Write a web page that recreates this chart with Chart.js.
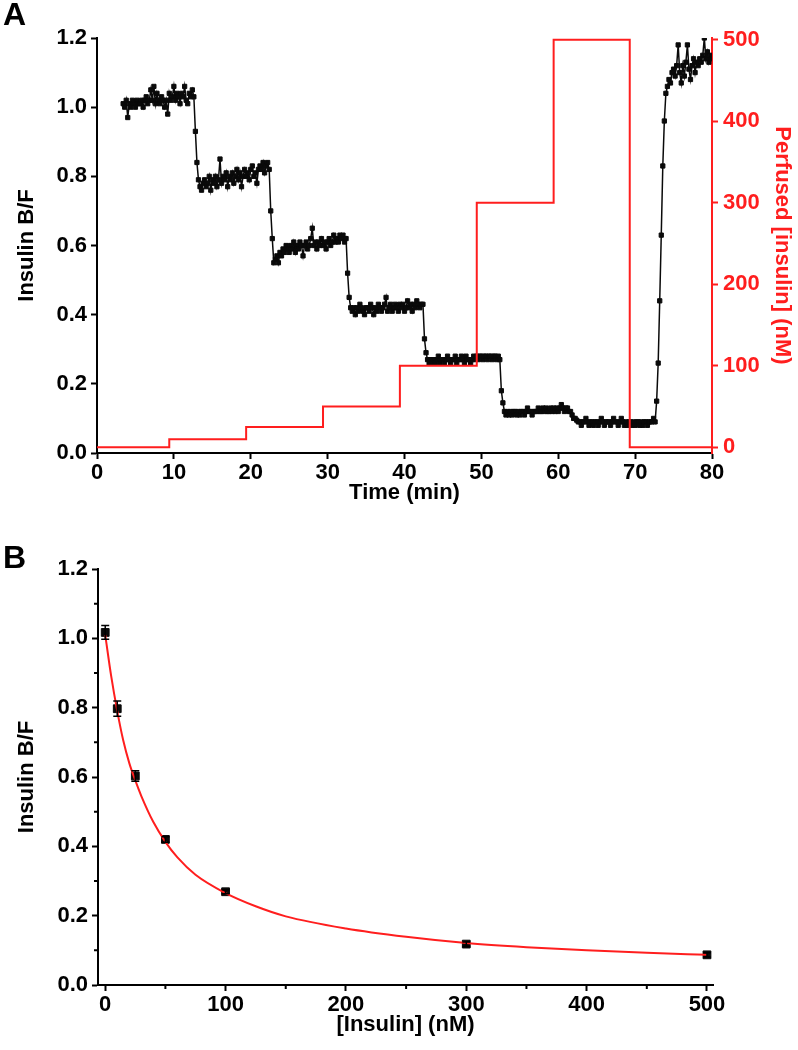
<!DOCTYPE html>
<html>
<head>
<meta charset="utf-8">
<script src="https://cdn.jsdelivr.net/npm/chart.js@4.4.0/dist/chart.umd.min.js"></script>
<style>
  body { margin: 0; background: #fff; }
  .panel { position: absolute; left: 0; width: 798px; height: 525px; }
  .panel-label { position: absolute; left: 3px; font: bold 32px 'Liberation Sans', Arial, sans-serif; color: #000; }
</style>
</head>
<body>
<div class="panel" style="top:0"><canvas id="chartA" width="798" height="525"></canvas></div>
<div class="panel" style="top:525px"><canvas id="chartB" width="798" height="525"></canvas></div>
<div class="panel-label" style="top:-4px">A</div>
<div class="panel-label" style="top:539px">B</div>
<script>
const FONT = "'Liberation Sans', Arial, sans-serif";
const RED = 'rgb(255, 30, 30)';
const INK = '#0a0a0a';

// --- Panel A: insulin B/F trace, one reading every 0.2 min ---
const SAMPLE_MIN = 0.2;
const bfNoInsulin = [1.01, 1.00, 1.02, 0.97, 1.01, 1.00, 1.02, 1.01, 1.00, 1.02,
  1.01, 1.01, 1.02, 1.00, 1.02, 1.03, 1.01, 1.02, 1.05, 1.02,
  1.06, 1.01, 1.04, 1.02, 1.01, 1.03, 1.02, 1.00, 1.02, 0.98,
  1.04, 1.02, 1.03, 1.06, 1.02, 1.04, 1.03, 1.01, 1.04, 1.03,
  1.06, 1.02, 1.01, 1.04, 1.03, 1.05, 1.03];
const bf10nM = [0.93, 0.84, 0.79,
  0.77, 0.76, 0.78, 0.79, 0.77, 0.78, 0.80, 0.76, 0.79, 0.78,
  0.80, 0.77, 0.79, 0.85, 0.78, 0.80, 0.79, 0.81, 0.77, 0.80,
  0.79, 0.81, 0.78, 0.80, 0.82, 0.79, 0.81, 0.77, 0.80, 0.82,
  0.80, 0.81, 0.79, 0.82, 0.83, 0.80, 0.81, 0.78, 0.82, 0.83,
  0.82, 0.84, 0.81, 0.83, 0.84, 0.82];
const bf25nM = [0.70, 0.62, 0.55,
  0.56, 0.57, 0.55, 0.58, 0.57, 0.59, 0.58, 0.60, 0.59, 0.58,
  0.60, 0.59, 0.61, 0.58, 0.60, 0.59, 0.61, 0.60, 0.57, 0.60,
  0.61, 0.59, 0.60, 0.62, 0.65, 0.60, 0.61, 0.59, 0.61, 0.60,
  0.62, 0.60, 0.61, 0.59, 0.61, 0.62, 0.60, 0.61, 0.63, 0.61,
  0.62, 0.61, 0.63, 0.62, 0.63, 0.61, 0.62];
const bf50nM = [0.52, 0.45, 0.42,
  0.41, 0.42, 0.40, 0.42, 0.41, 0.43, 0.42, 0.41, 0.40, 0.42,
  0.42, 0.41, 0.43, 0.42, 0.40, 0.42, 0.41, 0.43, 0.42, 0.41,
  0.42, 0.43, 0.45, 0.41, 0.42, 0.43, 0.41, 0.42, 0.43, 0.42,
  0.41, 0.43, 0.42, 0.43, 0.41, 0.42, 0.44, 0.42, 0.43, 0.41,
  0.43, 0.42, 0.44, 0.43, 0.42, 0.43, 0.43];
const bf100nM = [0.33, 0.29, 0.27,
  0.26, 0.27, 0.26, 0.27, 0.26, 0.27, 0.28, 0.26, 0.27, 0.27,
  0.26, 0.27, 0.28, 0.27, 0.26, 0.27, 0.27, 0.28, 0.26, 0.27,
  0.27, 0.28, 0.27, 0.26, 0.28, 0.27, 0.27, 0.26, 0.27, 0.28,
  0.27, 0.28, 0.27, 0.28, 0.28, 0.27, 0.28, 0.28, 0.27, 0.28,
  0.28, 0.27, 0.28, 0.28, 0.27, 0.28, 0.27];
const bf300nM = [0.18, 0.145, 0.12,
  0.11, 0.12, 0.11, 0.12, 0.11, 0.12, 0.12, 0.11, 0.12, 0.11,
  0.12, 0.12, 0.11, 0.12, 0.13, 0.12, 0.12, 0.11, 0.12, 0.12,
  0.12, 0.13, 0.12, 0.12, 0.13, 0.12, 0.13, 0.12, 0.12, 0.13,
  0.12, 0.13, 0.12, 0.13, 0.12, 0.13, 0.14, 0.13, 0.12, 0.13,
  0.13, 0.12, 0.12, 0.11, 0.10, 0.10, 0.095];
const bf500nM = [0.09, 0.09, 0.08, 0.09, 0.09, 0.10, 0.09, 0.08, 0.09, 0.09,
  0.08, 0.09, 0.09, 0.08, 0.09, 0.10, 0.09, 0.08, 0.09, 0.09,
  0.09, 0.08, 0.09, 0.10, 0.09, 0.09, 0.08, 0.09, 0.10, 0.09,
  0.08, 0.09, 0.08, 0.09, 0.09, 0.08, 0.09, 0.08, 0.09, 0.09,
  0.08, 0.09, 0.08, 0.09, 0.09, 0.08, 0.09, 0.09, 0.09, 0.10, 0.09];
const bfWash = [0.15, 0.26, 0.44, 0.63, 0.83, 0.96, 1.04,
  1.06, 1.08, 1.07, 1.10, 1.11, 1.09, 1.12, 1.18, 1.10, 1.07,
  1.12, 1.09, 1.13, 1.18, 1.11, 1.08, 1.12, 1.14, 1.10, 1.13,
  1.12, 1.14, 1.13, 1.15, 1.20, 1.14, 1.16, 1.13, 1.15, 1.14];
const segmentStarts = [3.4, 12.8, 22.6, 32.6, 42.6, 52.6, 62.6, 72.8];
const segments = [bfNoInsulin, bf10nM, bf25nM, bf50nM, bf100nM, bf300nM, bf500nM, bfWash];

// perfused insulin steps (nM), value held until the next time
const stepTimes = [0, 9.4, 19.4, 29.4, 39.4, 49.4, 59.4, 69.3, 80];
const stepConc = [0, 10, 25, 50, 100, 300, 500, 0, 0];

const timeTicks = [0, 10, 20, 30, 40, 50, 60, 70, 80];
const bfTicks = [0, 0.2, 0.4, 0.6, 0.8, 1.0, 1.2];
const perfusedTicks = [0, 100, 200, 300, 400, 500];

// --- Panel B: calibration ---
const calConc = [0, 10, 25, 50, 100, 300, 500];
const calBF = [1.017, 0.797, 0.603, 0.42, 0.269, 0.118, 0.087];
const calErr = [0.02, 0.022, 0.015, 0.008, 0.006, 0.006, 0.006];
const fitConc = [0, 5, 10, 15, 20, 25, 30, 40, 50, 60, 75, 100, 125, 150, 200, 250, 300, 350, 400, 450, 500];
const fitBF = [1.01, 0.89, 0.79, 0.705, 0.64, 0.59, 0.545, 0.47, 0.413, 0.368, 0.318, 0.265, 0.227, 0.198, 0.163, 0.139, 0.121, 0.109, 0.100, 0.093, 0.087];
const concTicks = [0, 100, 200, 300, 400, 500];
const concMinor = [50, 150, 250, 350, 450];
const bfMinor = [0.1, 0.3, 0.5, 0.7, 0.9, 1.1];

const tracePoints = [];
segments.forEach((seg, s) => {
  seg.forEach((v, i) => tracePoints.push({ x: +(segmentStarts[s] + i * SAMPLE_MIN).toFixed(2), y: v }));
});

const tickFont = { family: FONT, size: 22, weight: 'bold' };
const titleFont = { family: FONT, size: 22, weight: 'bold' };
const fixedTicks = values => scale => { scale.ticks = values.map(value => ({ value })); };
const fixedWidth = w => scale => { scale.width = w; };
const fixedHeight = h => scale => { scale.height = h; };

function axisStyle(color) {
  return {
    border: { display: true, color: color, width: 2 },
    grid: { drawOnChartArea: false, drawTicks: true, tickLength: 6, tickWidth: 2, tickColor: color },
  };
}

new Chart(document.getElementById('chartA'), {
  type: 'scatter',
  data: {
    datasets: [
      {
        label: 'Perfused [insulin]',
        data: stepTimes.map((t, i) => ({ x: t, y: stepConc[i] })),
        yAxisID: 'y2',
        showLine: true,
        stepped: 'before',
        borderColor: RED,
        borderWidth: 2,
        pointRadius: 0,
      },
      {
        label: 'Insulin B/F',
        data: tracePoints,
        yAxisID: 'y',
        showLine: true,
        borderColor: INK,
        borderWidth: 1.5,
        pointStyle: 'rect',
        pointRadius: 3,
        pointBackgroundColor: INK,
        pointBorderColor: INK,
        pointBorderWidth: 1,
      },
    ],
  },
  options: {
    responsive: false,
    animation: false,
    layout: { padding: { top: 38, left: 0, right: 0, bottom: 0 } },
    plugins: { legend: { display: false }, tooltip: { enabled: false } },
    scales: {
      x: {
        type: 'linear', min: 0, max: 80,
        afterBuildTicks: fixedTicks(timeTicks),
        afterFit: fixedHeight(72),
        ...axisStyle('#000'),
        ticks: { font: tickFont, color: '#000', padding: 1, maxRotation: 0, autoSkip: false },
        title: { display: true, text: 'Time (min)', font: titleFont, color: '#000', padding: { top: 0, bottom: 19 } },
      },
      y: {
        type: 'linear', position: 'left', min: 0, max: 1.2,
        afterBuildTicks: fixedTicks(bfTicks),
        afterFit: fixedWidth(97),
        ...axisStyle('#000'),
        ticks: { font: tickFont, color: '#000', padding: 4, callback: v => v.toFixed(1) },
        title: { display: true, text: 'Insulin B/F', font: titleFont, color: '#000', padding: { top: 14, bottom: 0 } },
      },
      y2: {
        type: 'linear', position: 'right', min: -7, max: 502,
        afterBuildTicks: fixedTicks(perfusedTicks),
        afterFit: fixedWidth(86),
        ...axisStyle(RED),
        ticks: { font: tickFont, color: RED, padding: 5 },
        title: { display: true, text: 'Perfused [insulin] (nM)', font: titleFont, color: RED, padding: { top: 3, bottom: 0 } },
      },
    },
  },
});

const errorBars = {
  id: 'errorBars',
  afterDatasetsDraw(chart) {
    const { ctx, scales: { x, y } } = chart;
    ctx.save();
    ctx.strokeStyle = '#000';
    ctx.lineWidth = 1.5;
    ctx.beginPath();
    calConc.forEach((c, i) => {
      const px = x.getPixelForValue(c);
      const top = y.getPixelForValue(calBF[i] + calErr[i]);
      const bot = y.getPixelForValue(calBF[i] - calErr[i]);
      ctx.moveTo(px, top); ctx.lineTo(px, bot);
      ctx.moveTo(px - 4, top); ctx.lineTo(px + 4, top);
      ctx.moveTo(px - 4, bot); ctx.lineTo(px + 4, bot);
    });
    ctx.stroke();
    ctx.restore();
  },
};

const minorTicks = {
  id: 'minorTicks',
  afterDraw(chart) {
    const { ctx, chartArea, scales: { x, y } } = chart;
    ctx.save();
    ctx.strokeStyle = '#000';
    ctx.lineWidth = 2;
    ctx.beginPath();
    concMinor.forEach(v => {
      const px = x.getPixelForValue(v);
      ctx.moveTo(px, chartArea.bottom); ctx.lineTo(px, chartArea.bottom + 4);
    });
    bfMinor.forEach(v => {
      const py = y.getPixelForValue(v);
      ctx.moveTo(chartArea.left, py); ctx.lineTo(chartArea.left - 4, py);
    });
    ctx.stroke();
    ctx.restore();
  },
};

new Chart(document.getElementById('chartB'), {
  type: 'scatter',
  data: {
    datasets: [
      {
        label: 'Fit',
        data: fitConc.map((c, i) => ({ x: c, y: fitBF[i] })),
        showLine: true,
        cubicInterpolationMode: 'monotone',
        borderColor: RED,
        borderWidth: 2,
        pointRadius: 0,
      },
      {
        label: 'Calibration',
        data: calConc.map((c, i) => ({ x: c, y: calBF[i] })),
        pointStyle: 'rect',
        pointRadius: 5.5,
        pointBackgroundColor: INK,
        pointBorderColor: INK,
        pointBorderWidth: 1,
      },
    ],
  },
  options: {
    responsive: false,
    animation: false,
    layout: { padding: { top: 44, left: 0, right: 85, bottom: 0 } },
    plugins: { legend: { display: false }, tooltip: { enabled: false } },
    scales: {
      x: {
        type: 'linear', min: -6, max: 505,
        afterBuildTicks: fixedTicks(concTicks),
        afterFit: fixedHeight(65),
        ...axisStyle('#000'),
        ticks: { font: tickFont, color: '#000', padding: 1, maxRotation: 0, autoSkip: false },
        title: { display: true, text: '[Insulin] (nM)', font: titleFont, color: '#000', padding: { top: 0, bottom: 12 } },
      },
      y: {
        type: 'linear', position: 'left', min: 0, max: 1.2,
        afterBuildTicks: fixedTicks(bfTicks),
        afterFit: fixedWidth(98),
        ...axisStyle('#000'),
        ticks: { font: tickFont, color: '#000', padding: 4, callback: v => v.toFixed(1) },
        title: { display: true, text: 'Insulin B/F', font: titleFont, color: '#000', padding: { top: 14, bottom: 0 } },
      },
    },
  },
  plugins: [errorBars, minorTicks],
});
</script>
</body>
</html>
